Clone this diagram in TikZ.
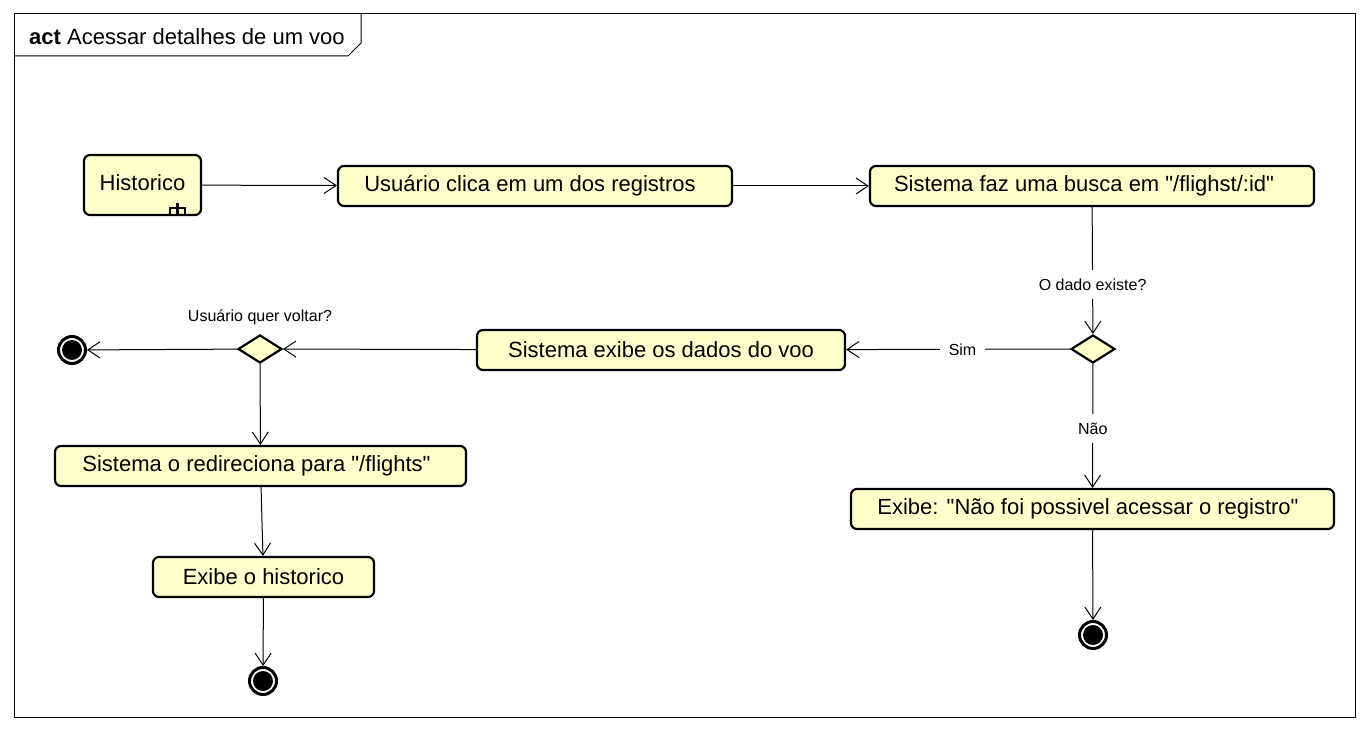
\documentclass[tikz,border=0pt]{standalone}
\usepackage{fontspec}
\setmainfont[Ligatures={TeXOff,NoCommon}]{Liberation Sans}
\usetikzlibrary{arrows.meta,shapes.geometric}
\definecolor{actfill}{RGB}{255,255,204}

\begin{document}
\begin{tikzpicture}[x=1pt, y=-1pt, >={Straight Barb[length=12pt,width=16pt]},
  acao/.style={draw, rounded corners=6pt, line width=2.2pt, fill=actfill, minimum height=40pt, inner sep=0pt, font=\fontsize{22}{26}\selectfont},
  decisao/.style={diamond, draw, line width=2.2pt, fill=actfill, minimum width=44pt, minimum height=28pt, inner sep=0pt},
  fim/.style={circle, draw, line width=3pt, fill=white, minimum size=27pt, inner sep=0pt, path picture={\fill[black] (path picture bounding box.center) circle (10pt);}},
  guarda/.style={fill=white, inner sep=9pt, font=\fontsize{16}{19}\selectfont},
  fluxo/.style={->, line width=1pt}]
  \fill[white] (0,0) rectangle (1369,730);
  \useasboundingbox (0,0) rectangle (1369,730);

  \draw[line width=1pt] (14,14) rectangle (1355,717);
  \draw[line width=1pt] (14,56) -- (348,56) -- (361,43) -- (361,14);
  \node[anchor=base west, inner sep=0pt, font=\fontsize{22}{26}\selectfont] (titulo) at (29,45) {\textbf{act} Acessar detalhes de um voo};

  \node[acao, minimum width=117pt, minimum height=60pt] (hist) at (142.5,185) {\raisebox{5pt}{Historico}};
  \draw[line width=2.5pt, shift={(hist.south east)}] (-32,-2) -- (-32,-8) -- (-17,-8) -- (-17,-2) (-24.5,-13) -- (-24.5,-2);
  \node[acao, minimum width=394pt] (usr) at (535,186) {\kern-10pt Usuário clica em um dos registros};
  \node[acao, minimum width=444pt] (busca) at (1092,186) {\kern-16pt Sistema faz uma busca em "/flighst/:id"};
  \node[decisao] (d1) at (1093,349) {};
  \node[acao, minimum width=368pt] (exibe) at (661,350) {Sistema exibe os dados do voo};
  \node[acao, minimum width=483pt] (erro) at (1092.5,509) {\kern-9pt Exibe: "Não foi possivel acessar o registro"};
  \node[fim] (fim3) at (1093,635) {};
  \node[decisao, label={[font=\fontsize{16}{19}\selectfont, label distance=6pt]above:Usuário quer voltar?}] (d2) at (260,349) {};
  \node[fim] (fim1) at (72,350) {};
  \node[acao, minimum width=411pt] (redir) at (260.5,466) {\kern-8pt Sistema o redireciona para "/flights"};
  \node[acao, minimum width=221pt] (hist2) at (263.5,577) {Exibe o historico};
  \node[fim] (fim2) at (263,681) {};

  \draw[fluxo] (hist) -- (usr);
  \draw[fluxo] (usr) -- (busca);
  \draw[fluxo] (busca) -- node[guarda, pos=0.61] {O dado existe?} (d1);
  \draw[fluxo] (d1) -- node[guarda, pos=0.48] {Sim} (exibe);
  \draw[fluxo] (d1) -- node[guarda, pos=0.52] {Não} (erro);
  \draw[fluxo] (erro) -- (fim3);
  \draw[fluxo] (exibe) -- (d2);
  \draw[fluxo] (d2) -- (fim1);
  \draw[fluxo] (d2) -- (redir);
  \draw[fluxo] (redir) -- (hist2);
  \draw[fluxo] (hist2) -- (fim2);
\end{tikzpicture}
\end{document}
